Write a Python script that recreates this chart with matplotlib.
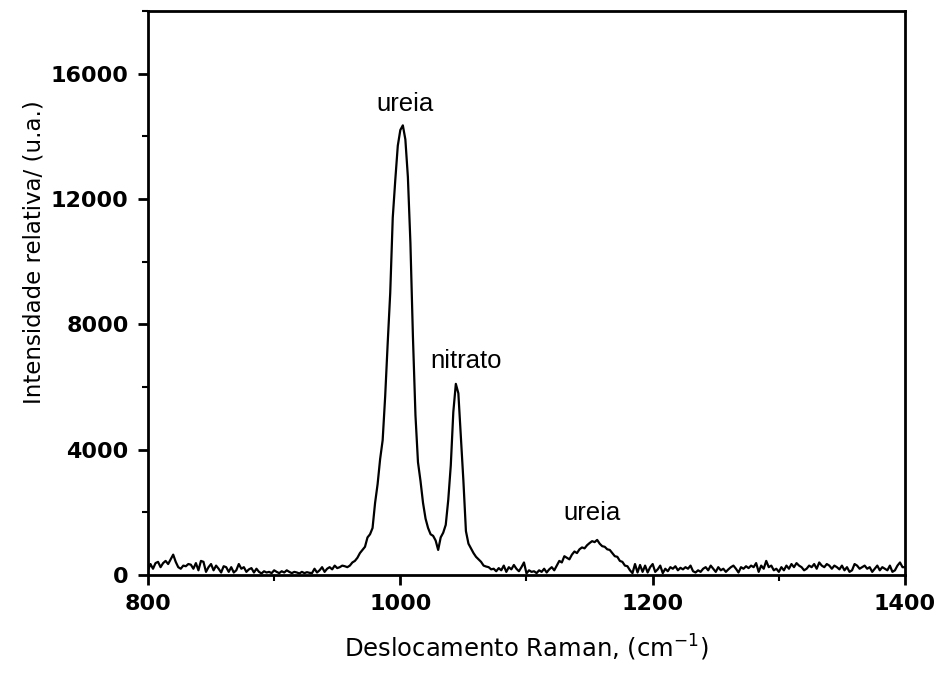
import numpy as np
import matplotlib
matplotlib.use("Agg")
import matplotlib.pyplot as plt
from matplotlib.ticker import MultipleLocator

# Raman shift grid (cm^-1), 2 cm^-1 steps
shift = np.arange(800, 1401, 2)

# intensity, in segments
seg_800_898 = [150, 350, 200, 380, 420, 250, 380, 450, 350, 500,
               650, 420, 250, 200, 300, 280, 350, 330, 200, 380,
               150, 450, 420, 100, 250, 350, 150, 300, 200, 80,
               280, 250, 100, 250, 80, 150, 350, 200, 250, 100,
               180, 220, 80, 200, 100, 50, 120, 80, 100, 60]
seg_900_956 = [150, 100, 60, 120, 80, 150, 100, 60, 100, 80,
               50, 100, 60, 90, 70, 60, 200, 80, 150, 250,
               100, 200, 250, 180, 300, 220, 250, 300, 280]
seg_958_1074 = [250, 300, 400, 450, 550, 700, 800, 900, 1200, 1300,
                1500, 2300, 2900, 3700, 4300, 5700, 7400, 9000, 11400, 12600,
                13700, 14200, 14350, 13900, 12700, 10600, 7600, 5100, 3600, 3000,
                2300, 1800, 1500, 1300, 1250, 1100, 800, 1200, 1350, 1600,
                2400, 3500, 5200, 6100, 5800, 4400, 3000, 1400, 1000, 850,
                700, 580, 500, 420, 300, 270, 250, 180, 200]
seg_1076_1124 = [120, 220, 150, 300, 100, 250, 180, 320, 200, 120,
                 250, 400, 50, 150, 100, 120, 60, 150, 100, 200,
                 80, 180, 250, 150, 300]
seg_1126_1200 = [450, 400, 600, 550, 500, 650, 750, 700, 820, 880,
                 850, 950, 1020, 1080, 1050, 1120, 1000, 920, 900, 820,
                 800, 700, 600, 580, 450, 420, 300, 280, 150, 60,
                 350, 80, 320, 100, 300, 80, 250, 350]
seg_1202_1400 = [100, 180, 300, 60, 200, 120, 250, 200, 280, 150,
                 230, 180, 250, 200, 300, 120, 80, 150, 100, 200,
                 250, 150, 300, 200, 100,
                 250, 150, 200, 100, 180, 250, 300, 200, 80, 250,
                 200, 280, 220, 300, 250, 380, 100, 300, 200, 450,
                 250, 300, 150, 200, 100,
                 250, 150, 300, 200, 350, 250, 380, 300, 250, 150,
                 200, 300, 250, 350, 200, 400, 300, 250, 350, 300,
                 200, 300, 250, 180, 300,
                 150, 250, 100, 150, 350, 300, 200, 250, 300, 200,
                 250, 100, 200, 300, 150, 250, 200, 150, 300, 100,
                 150, 300, 400, 250, 250]

intensity = np.array(seg_800_898 + seg_900_956 + seg_958_1074 +
                     seg_1076_1124 + seg_1126_1200 + seg_1202_1400)

labels = ["ureia", "nitrato", "ureia"]
label_x = [1004, 1052, 1152]
label_y = [14800, 6600, 1750]

fig = plt.figure(figsize=(9.4, 6.86), dpi=100)
ax = fig.add_axes([0.1574, 0.1618, 0.8054, 0.8222])

ax.plot(shift, intensity, color="black", linewidth=1.6)

for t, x, y in zip(labels, label_x, label_y):
    ax.text(x, y, t, ha="center", va="baseline", fontsize=18.5,
            family="Liberation Sans")

ax.set_xlim(800, 1400)
ax.set_ylim(0, 18000)
ax.xaxis.set_major_locator(MultipleLocator(200))
ax.xaxis.set_minor_locator(MultipleLocator(100))
ax.yaxis.set_major_locator(MultipleLocator(4000))
ax.yaxis.set_minor_locator(MultipleLocator(2000))

for s in ax.spines.values():
    s.set_linewidth(2.0)
ax.tick_params(which="major", direction="out", length=7, width=2,
               labelsize=16, pad=7)
ax.tick_params(which="minor", direction="out", length=4, width=1.5)
for lab in ax.get_xticklabels() + ax.get_yticklabels():
    lab.set_fontweight("bold")

ax.set_xlabel("Deslocamento Raman, (cm$^{-1}$)", fontsize=17.5, labelpad=13)
ax.set_ylabel("Intensidade relativa/ (u.a.)", fontsize=16.5)
ax.yaxis.set_label_coords(-0.135, 0.573)

fig.savefig("out.png", dpi=100)
